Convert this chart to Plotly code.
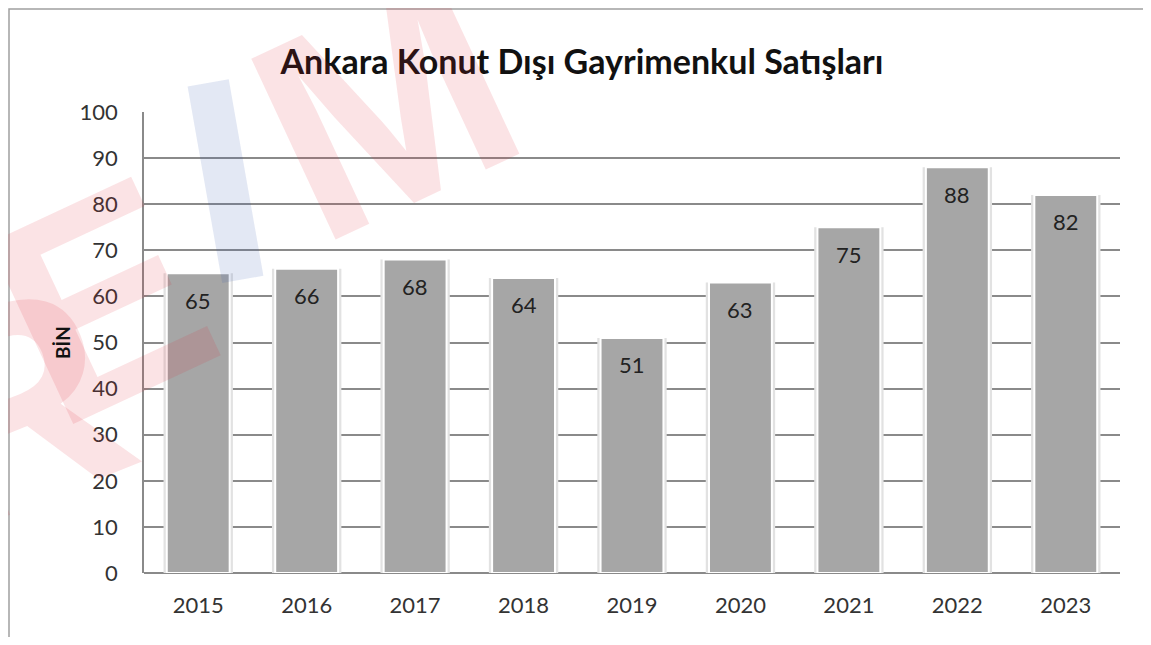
import plotly.graph_objects as go

years = ["2015", "2016", "2017", "2018", "2019", "2020", "2021", "2022", "2023"]
values = [65, 66, 68, 64, 51, 63, 75, 88, 82]
y_ticks = [0, 10, 20, 30, 40, 50, 60, 70, 80, 90, 100]

OFF = 8  # page body margin
W, H = 1151 - 2 * OFF, 645 - 2 * OFF
# plot area in screen pixels: x 144..1120, y 112..573
L, T = 144 - OFF, 112 - OFF
R, B = W - (1120 - OFF), H - (573 - OFF)
pw, ph = W - L - R, H - T - B

def px(x):
    return (x - OFF - L) / pw

def py(y):
    return (H - B - (y - OFF)) / ph

idx = list(range(len(years)))

fig = go.Figure()
fig.add_trace(go.Bar(x=idx, y=values, width=0.64, marker=dict(color="#e2e2e2", line=dict(width=0)),
                     hoverinfo="skip", showlegend=False))
fig.add_trace(go.Bar(x=idx, y=values, width=0.58, marker=dict(color="#a6a6a6", line=dict(color="#ffffff", width=2)),
                     showlegend=False))

annotations = []
for i, v in zip(idx, values):
    annotations.append(dict(x=i, y=v, xref="x", yref="y", text=str(v), showarrow=False,
                            yshift=-27, font=dict(size=22, color="#222222", family="Lato")))

# watermark letters
wm = [("R", 12, 405, "rgba(225,40,55,0.13)", -22),
      ("E", 100, 300, "rgba(225,40,55,0.13)", -25),
      ("I", 225, 180, "rgba(60,90,175,0.14)", -10),
      ("M", 385, 105, "rgba(225,40,55,0.13)", -25)]
for ch, cx, cy, col, ang in wm:
    annotations.append(dict(x=px(cx), y=py(cy), xref="paper", yref="paper", text=ch, showarrow=False,
                            textangle=ang, font=dict(size=290, color=col, family="Liberation Sans", weight="bold"),
                            xanchor="center", yanchor="middle"))

annotations.append(dict(x=px(62), y=py(343), xref="paper", yref="paper", text="<b>BİN</b>", textangle=-90,
                        showarrow=False, font=dict(size=19, color="#111111", family="Lato"),
                        xanchor="center", yanchor="middle"))

fig.update_layout(
    width=W, height=H,
    margin=dict(l=L, r=R, t=T, b=B),
    paper_bgcolor="white", plot_bgcolor="white",
    barmode="overlay",
    title=dict(text="<b>Ankara Konut Dışı Gayrimenkul Satışları</b>", x=px(582), xanchor="center", xref="paper",
               y=1 - (62 - OFF) / H, yanchor="middle", font=dict(size=34, color="#111111", family="Lato")),
    xaxis=dict(range=[-0.5, len(years) - 0.5], tickvals=idx, ticktext=years, showgrid=False, showline=False,
               ticks="", zeroline=False, ticklabelstandoff=17,
               tickfont=dict(size=22, color="#333333", family="Lato")),
    yaxis=dict(range=[0, 100], tickvals=y_ticks, showgrid=True, gridcolor="#8a8a8a", gridwidth=1.5,
               showline=True, linecolor="#8a8a8a", linewidth=1.5, ticks="", ticklabelstandoff=20,
               zeroline=True, zerolinecolor="#8a8a8a", zerolinewidth=1.5,
               tickfont=dict(size=22, color="#333333", family="Lato")),
    annotations=annotations,
    shapes=[dict(type="rect", xref="paper", yref="paper", x0=px(9), x1=px(1170), y0=py(700), y1=py(9),
                 line=dict(color="#a0a0a0", width=1.5), layer="below")],
)

fig.write_html("out.html")
